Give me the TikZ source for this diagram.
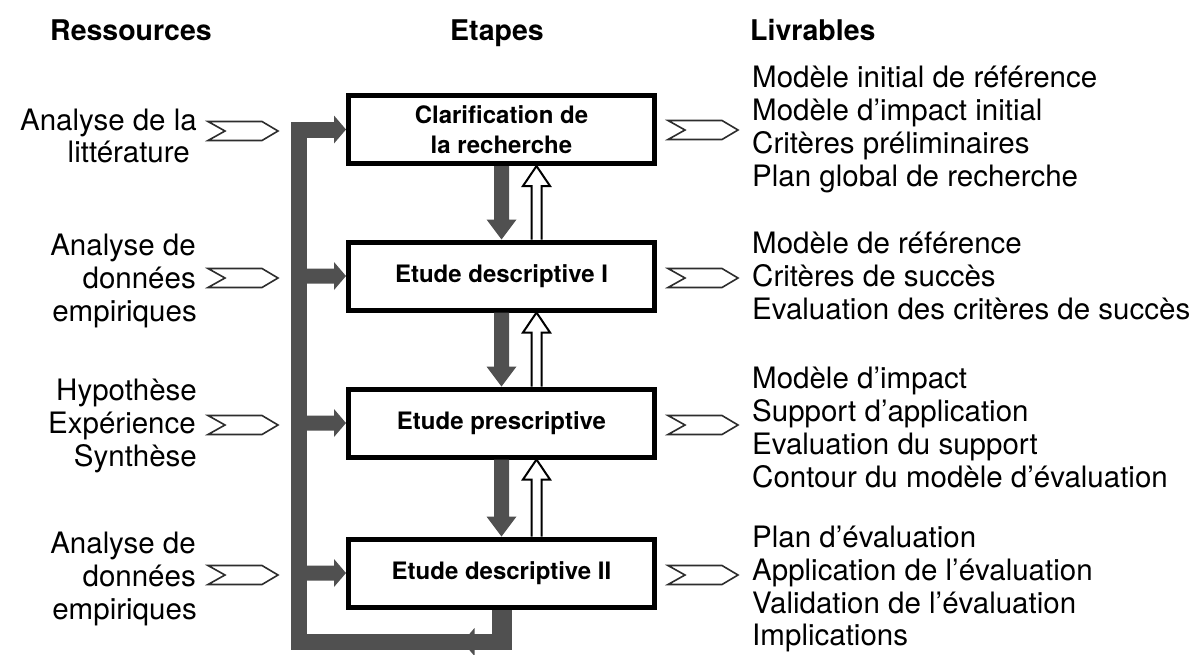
\documentclass[tikz,border=0pt]{standalone}
\usepackage{fontspec}
\setmainfont{TeX Gyre Heros}
\usetikzlibrary{calc}
\definecolor{barc}{RGB}{80,80,80}
\definecolor{chevc}{RGB}{45,45,45}
\tikzset{
  stepbox/.style={draw=black, line width=5pt, fill=white, minimum width=306pt, minimum height=68pt,
    inner sep=0pt, font=\fontsize{24}{30}\selectfont\bfseries, align=center},
  tx/.style={inner sep=0pt, font=\fontsize{29.5}{33}\selectfont},
  hd/.style={inner sep=0pt, font=\fontsize{28.5}{33}\selectfont\bfseries},
  chev/.style={draw=chevc, line width=1.6pt, fill=white, line join=miter},
  barfill/.style={fill=barc},
  hollow/.style={draw=black, line width=2pt, fill=white, line join=miter},
}
\newcommand\chevshape[2]{\draw[chev] (#1,#2-9.5) -- ++(54,0) -- ++(16,9.5) -- ++(-16,9.5) -- ++(-54,0) -- ++(17,-9.5) -- cycle;}
\newcommand\rarr[2]{\fill[barfill] ($(#1)+(0,-7.5)$) -- ($(#2)+(-12,-7.5)$) -- ($(#2)+(-12,-14)$) -- (#2) -- ($(#2)+(-12,14)$) -- ($(#2)+(-12,7.5)$) -- ($(#1)+(0,7.5)$) -- cycle;}
\newcommand\darr[2]{\fill[barfill] ($(#1)+(-7.5,0)$) -- ($(#2)+(-7.5,-20)$) -- ($(#2)+(-15,-20)$) -- (#2) -- ($(#2)+(15,-20)$) -- ($(#2)+(7.5,-20)$) -- ($(#1)+(7.5,0)$) -- cycle;}
\newcommand\uarr[2]{\draw[hollow] ($(#1)+(30,0)$) -- ($(#2)+(30,20)$) -- ($(#2)+(21.5,20)$) -- ($(#2)+(35,0)$) -- ($(#2)+(48.5,20)$) -- ($(#2)+(40,20)$) -- ($(#1)+(40,0)$);}
\begin{document}
\begin{tikzpicture}[x=1pt,y=-1pt]
\useasboundingbox (0,0) rectangle (1195,654);

% headers
\node[hd, anchor=base west] (h1) at (50,40) {Ressources};
\node[hd, anchor=base] (h2) at (497,40) {Etapes};
\node[hd, anchor=base west] (h3) at (750,40) {Livrables};

% step boxes
\node[stepbox] (b1) at (501.5,129.5) {Clarification de\\la recherche};
\node[stepbox] (b2) at (501.5,276) {Etude descriptive I};
\node[stepbox] (b3) at (501.5,423) {Etude prescriptive};
\node[stepbox] (b4) at (501.5,573) {Etude descriptive II};

% feedback loop
\coordinate (c2) at (299,642);
\coordinate (c1) at (b4.south |- c2);
\coordinate (s1) at (c2 |- b1.west);
\coordinate (s2) at (c2 |- b2.west);
\coordinate (s3) at (c2 |- b3.west);
\coordinate (s4) at (c2 |- b4.west);
\fill[barfill] ($(b4.south)+(-10,0)$) rectangle ($(c1)+(10,8)$);
\draw[barc, line width=16pt, line join=miter] ($(c1)+(10,0)$) -- (c2) -- (s1) -- ($(b1.west)+(-12,0)$);
\fill[barfill] ($(b1.west)+(-12,-14)$) -- (b1.west) -- ($(b1.west)+(-12,14)$) -- cycle;
\fill[barfill] ($(c1)+(-27,-14)$) -- ($(c1)+(-39,0)$) -- ($(c1)+(-27,14)$) -- cycle;
\rarr{s2}{b2.west}
\rarr{s3}{b3.west}
\rarr{s4}{b4.west}

% arrows between steps
\darr{b1.south}{b2.north}
\darr{b2.south}{b3.north}
\darr{b3.south}{b4.north}
\uarr{b2.north}{b1.south}
\uarr{b3.north}{b2.south}
\uarr{b4.north}{b3.south}

% chevrons
\chevshape{208}{131}
\chevshape{208}{278}
\chevshape{208}{425}
\chevshape{208}{575}
\chevshape{668}{130}
\chevshape{668}{278}
\chevshape{668}{425}
\chevshape{668}{575}

% resources
\node[tx, anchor=base east] (l1a) at (197,130) {Analyse de la};
\node[tx, anchor=base east] (l1b) at (190,162) {littérature};
\node[tx, anchor=base east] (l2a) at (196,255) {Analyse de};
\node[tx, anchor=base east] (l2b) at (196,288) {données};
\node[tx, anchor=base east] (l2c) at (197,321) {empiriques};
\node[tx, anchor=base east] (l3a) at (197,400) {Hypothèse};
\node[tx, anchor=base east] (l3b) at (196,433) {Expérience};
\node[tx, anchor=base east] (l3c) at (197,466) {Synthèse};
\node[tx, anchor=base east] (l4a) at (196,553) {Analyse de};
\node[tx, anchor=base east] (l4b) at (196,586) {données};
\node[tx, anchor=base east] (l4c) at (197,619) {empiriques};

% deliverables
\node[tx, anchor=base west] (r1a) at (752,87) {Modèle initial de référence};
\node[tx, anchor=base west] (r1b) at (752,120) {Modèle d’impact initial};
\node[tx, anchor=base west] (r1c) at (752,153) {Critères préliminaires};
\node[tx, anchor=base west] (r1d) at (752,186) {Plan global de recherche};
\node[tx, anchor=base west] (r2a) at (752,253) {Modèle de référence};
\node[tx, anchor=base west] (r2b) at (752,286) {Critères de succès};
\node[tx, anchor=base west] (r2c) at (752,319) {Evaluation des critères de succès};
\node[tx, anchor=base west] (r3a) at (752,388) {Modèle d’impact};
\node[tx, anchor=base west] (r3b) at (752,421) {Support d’application};
\node[tx, anchor=base west] (r3c) at (752,454) {Evaluation du support};
\node[tx, anchor=base west] (r3d) at (752,487) {Contour du modèle d’évaluation};
\node[tx, anchor=base west] (r4a) at (752,547) {Plan d’évaluation};
\node[tx, anchor=base west] (r4b) at (752,580) {Application de l’évaluation};
\node[tx, anchor=base west] (r4c) at (752,613) {Validation de l’évaluation};
\node[tx, anchor=base west] (r4d) at (752,645) {Implications};
\end{tikzpicture}
\end{document}
